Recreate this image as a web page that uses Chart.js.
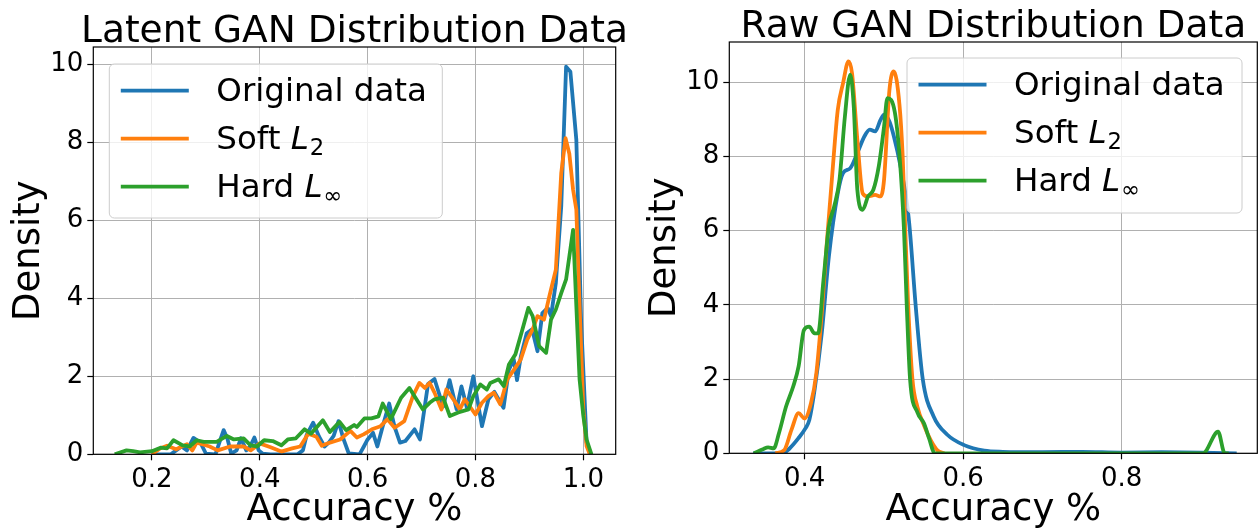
<!DOCTYPE html>
<html><head><meta charset="utf-8">
<script src="https://cdn.jsdelivr.net/npm/chart.js@4.4.0/dist/chart.umd.min.js"></script>
<style>
html,body{margin:0;padding:0;background:#fff;}
#wrap{position:relative;width:1258px;height:529px;overflow:hidden;background:#fff;}
#c1{position:absolute;left:0;top:0;}
#c2{position:absolute;left:640px;top:0;}
</style></head><body>
<div id="wrap"><canvas id="c1" width="640" height="529"></canvas><canvas id="c2" width="618" height="529"></canvas></div>
<script>
// ---------------- data ----------------
const seriesNames = ['Original data', 'Soft L\u2082', 'Hard L\u221E'];
const chartTitles = ['Latent GAN Distribution Data', 'Raw GAN Distribution Data'];
const xAxisTitle = 'Accuracy %';
const yAxisTitle = 'Density';

const latentXTicks = [0.2, 0.4, 0.6, 0.8, 1.0];
const latentXTickLabels = ['0.2', '0.4', '0.6', '0.8', '1.0'];
const latentYTicks = [0, 2, 4, 6, 8, 10];
const latentYTickLabels = ['0', '2', '4', '6', '8', '10'];
const rawXTicks = [0.4, 0.6, 0.8];
const rawXTickLabels = ['0.4', '0.6', '0.8'];
const rawYTicks = [0, 2, 4, 6, 8, 10];
const rawYTickLabels = ['0', '2', '4', '6', '8', '10'];

const latentOrigX = [0.200,0.235,0.255,0.265,0.277,0.290,0.300,0.318,0.325,0.333,0.340,0.347,0.357,0.365,0.375,0.382,0.390,0.398,0.405,0.420,0.470,0.480,0.487,0.499,0.510,0.520,0.528,0.537,0.546,0.555,0.565,0.585,0.593,0.600,0.610,0.618,0.628,0.640,0.650,0.660,0.670,0.687,0.697,0.712,0.724,0.740,0.752,0.765,0.774,0.784,0.796,0.812,0.824,0.835,0.852,0.862,0.871,0.877,0.884,0.895,0.905,0.915,0.924,0.934,0.940,0.949,0.959,0.968,0.976,0.987,0.996,1.006,1.014];
const latentOrigY = [0,0,0.20,0.10,0.42,0.30,0.02,0,0.30,0.62,0.40,0.02,0.10,0.41,0.10,0.20,0.43,0.10,0.02,0,0,0.10,0.50,0.81,0.45,0.20,0.30,0.47,0.85,0.40,0.02,0,0.20,0.38,0.55,0.20,0.72,1.30,0.70,0.30,0.34,0.64,0.38,1.80,1.93,1.22,1.90,1.15,1.74,1.20,2.00,0.72,1.41,1.60,1.19,2.17,2.43,1.90,2.50,3.10,3.20,2.64,3.62,3.75,3.54,4.39,6.35,9.93,9.80,8.06,3.37,0.30,0];

const latentSoftX = [0.200,0.215,0.228,0.245,0.265,0.275,0.283,0.295,0.307,0.322,0.345,0.370,0.383,0.400,0.420,0.440,0.460,0.475,0.490,0.505,0.515,0.530,0.549,0.568,0.580,0.5925,0.608,0.624,0.637,0.650,0.668,0.684,0.696,0.706,0.715,0.724,0.737,0.746,0.759,0.771,0.780,0.800,0.812,0.824,0.834,0.846,0.859,0.874,0.884,0.896,0.906,0.915,0.927,0.937,0.949,0.959,0.967,0.974,0.981,0.987,0.993,1.000,1.006,1.012];
const latentSoftY = [0,0.15,0.22,0.13,0.26,0.10,0.30,0.25,0.20,0.10,0.20,0.20,0.10,0.28,0.18,0.07,0.15,0.20,0.53,0.45,0.22,0.30,0.38,0.60,0.43,0.51,0.64,0.72,0.90,0.68,0.85,1.49,1.83,1.70,1.83,1.58,1.15,1.66,1.41,1.15,1.41,1.02,1.32,1.49,1.58,1.28,1.92,2.22,2.43,2.94,3.20,3.54,3.45,4.05,4.73,7.20,8.10,7.70,6.78,6.27,3.80,1.15,0.21,0];

const latentHardX = [0.131,0.153,0.165,0.178,0.200,0.216,0.228,0.240,0.257,0.270,0.283,0.296,0.320,0.339,0.352,0.370,0.383,0.395,0.408,0.424,0.440,0.452,0.467,0.483,0.495,0.517,0.530,0.548,0.560,0.575,0.580,0.594,0.607,0.620,0.628,0.643,0.662,0.6775,0.687,0.7025,0.715,0.724,0.740,0.7525,0.768,0.787,0.796,0.809,0.821,0.8275,0.843,0.8525,0.862,0.874,0.887,0.898,0.906,0.918,0.931,0.940,0.949,0.959,0.968,0.974,0.981,0.987,0.993,1.000,1.006,1.015];
const latentHardY = [0,0.10,0.08,0.05,0.08,0.17,0.15,0.36,0.23,0.20,0.36,0.32,0.32,0.47,0.38,0.41,0.23,0.20,0.36,0.34,0.23,0.38,0.41,0.64,0.53,0.87,0.57,0.83,0.62,0.75,0.70,0.92,0.92,0.97,1.30,0.90,1.45,1.70,1.49,1.15,1.32,1.41,1.45,0.98,1.07,1.15,1.49,1.79,1.66,1.83,1.92,1.75,2.30,2.56,3.20,3.75,3.54,2.77,2.60,3.45,3.71,4.13,4.48,5.07,5.75,3.80,1.92,0.98,0.38,0];

const rawOrigX = [0.335,0.372,0.381,0.392,0.401,0.406,0.4126,0.4216,0.4306,0.4418,0.4485,0.4575,0.4665,0.4755,0.4822,0.489,0.4957,0.5002,0.507,0.5127,0.521,0.5296,0.5328,0.540,0.549,0.5626,0.580,0.6013,0.6266,0.650,0.700,0.750,0.800,0.850,0.900,0.945];
const rawOrigY = [0,0,0.13,0.40,0.67,0.90,1.71,3.23,5.30,7.00,7.55,7.68,8.09,8.54,8.72,8.67,8.98,9.12,8.94,8.53,7.73,6.65,6.00,4.00,2.00,1.00,0.50,0.22,0.07,0.04,0.03,0.04,0.02,0.03,0.02,0];

const rawSoftX = [0.363,0.3744,0.3834,0.3924,0.400,0.408,0.4148,0.4216,0.4283,0.435,0.4418,0.4485,0.4553,0.4598,0.4665,0.4733,0.480,0.489,0.4957,0.5002,0.507,0.5125,0.5196,0.5237,0.527,0.5306,0.536,0.5423,0.5507,0.5592,0.5676,0.576];
const rawSoftY = [0,0.09,0.63,1.08,0.94,1.35,2.16,3.77,5.75,7.55,9.25,9.97,10.56,10.24,8.45,7.00,6.92,6.96,6.92,7.37,9.79,10.29,9.40,8.00,6.00,4.00,2.00,1.25,0.75,0.35,0.08,0];

const rawHardX = [0.336,0.3474,0.354,0.361,0.3676,0.3766,0.3856,0.3924,0.3991,0.4058,0.4126,0.417,0.4238,0.4306,0.4373,0.444,0.4508,0.4575,0.462,0.4665,0.4733,0.480,0.4867,0.4935,0.5002,0.5044,0.5137,0.5198,0.5254,0.5288,0.533,0.5423,0.5507,0.557,0.5642,0.9025,0.9215,0.930,0.935];
const rawHardY = [0,0.11,0.16,0.13,0.54,1.26,1.80,2.34,3.32,3.41,3.23,3.23,4.67,6.11,6.65,7.37,9.07,10.20,9.34,7.10,6.56,6.92,7.10,7.73,8.80,9.57,9.20,8.00,6.00,4.00,2.00,1.10,0.80,0.40,0,0,0.58,0,0];

// ---------------- styling ----------------
const FONT = "'DejaVu Sans', sans-serif";
const colors = ['#1f77b4', '#ff7f0e', '#2ca02c'];
const legendParts = [
  [{t: 'Original data'}],
  [{t: 'Soft '}, {t: 'L', it: true}, {t: '2', sub: true}],
  [{t: 'Hard '}, {t: 'L', it: true}, {t: '\u221E', sub: true}]
];

function drawLegend(ctx, L) {
  ctx.save();
  const r = 5;
  ctx.beginPath();
  ctx.moveTo(L.x + r, L.y);
  ctx.arcTo(L.x + L.w, L.y, L.x + L.w, L.y + L.h, r);
  ctx.arcTo(L.x + L.w, L.y + L.h, L.x, L.y + L.h, r);
  ctx.arcTo(L.x, L.y + L.h, L.x, L.y, r);
  ctx.arcTo(L.x, L.y, L.x + L.w, L.y, r);
  ctx.closePath();
  ctx.fillStyle = 'rgba(255,255,255,0.8)';
  ctx.fill();
  ctx.strokeStyle = '#cccccc';
  ctx.lineWidth = 1;
  ctx.stroke();
  const rows = [26.7, 74.7, 122.7];
  for (let i = 0; i < 3; i++) {
    const yc = L.y + rows[i];
    ctx.beginPath();
    ctx.strokeStyle = colors[i];
    ctx.lineWidth = 3.8;
    ctx.lineCap = 'butt';
    ctx.moveTo(L.x + 11.5, yc);
    ctx.lineTo(L.x + 79.5, yc);
    ctx.stroke();
    let x = L.x + 107;
    const base = yc + 10.5;
    ctx.fillStyle = '#000';
    ctx.textAlign = 'left';
    ctx.textBaseline = 'alphabetic';
    for (const p of legendParts[i]) {
      if (p.sub) {
        ctx.font = '22.7px ' + FONT;
        ctx.fillText(p.t, x + 1, base + 5.5);
        x += ctx.measureText(p.t).width + 1;
      } else {
        ctx.font = (p.it ? 'italic ' : '') + '32.5px ' + FONT;
        ctx.fillText(p.t, x, base);
        x += ctx.measureText(p.t).width;
      }
    }
  }
  ctx.restore();
}

const decor = {
  id: 'decor',
  afterDraw(chart) {
    const o = chart.options.plugins.decor;
    const ctx = chart.ctx;
    const ca = chart.chartArea;
    const cx = (ca.left + ca.right) / 2;
    const cy = (ca.top + ca.bottom) / 2;
    ctx.save();
    // frame (spines)
    ctx.strokeStyle = '#000';
    ctx.lineWidth = 1.2;
    ctx.strokeRect(ca.left, ca.top, ca.right - ca.left, ca.bottom - ca.top);
    // title
    ctx.fillStyle = '#000';
    ctx.textAlign = 'center';
    ctx.textBaseline = 'alphabetic';
    ctx.font = '37.5px ' + FONT;
    ctx.fillText(o.title, cx, o.titleBase);
    // x axis title
    ctx.font = '37px ' + FONT;
    ctx.fillText(xAxisTitle, cx, o.xLabelBase);
    // y axis title
    ctx.save();
    ctx.translate(o.yLabelBase, cy);
    ctx.rotate(-Math.PI / 2);
    ctx.fillText(yAxisTitle, 0, 0);
    ctx.restore();
    ctx.restore();
    drawLegend(ctx, o.legend);
  }
};

function makeChart(canvas, cfg) {
  const datasets = cfg.series.map((s, i) => ({
    label: seriesNames[i],
    data: s[0].map((x, j) => ({x: x, y: s[1][j]})),
    borderColor: colors[i],
    backgroundColor: colors[i],
    borderWidth: 3.8,
    pointRadius: 0,
    pointHoverRadius: 0,
    fill: false,
    tension: cfg.smooth ? 0.4 : 0,
    cubicInterpolationMode: cfg.smooth ? 'monotone' : 'default',
    borderJoinStyle: 'round',
    order: 2 - i
  }));
  return new Chart(canvas, {
    type: 'line',
    data: {datasets: datasets},
    options: {
      responsive: false,
      animation: false,
      events: [],
      layout: {padding: {top: cfg.top, right: cfg.padRight, left: 0, bottom: 0}},
      plugins: {
        legend: {display: false},
        tooltip: {enabled: false},
        title: {display: false},
        decor: cfg.decor
      },
      scales: {
        x: {
          type: 'linear', min: cfg.xMin, max: cfg.xMax,
          border: {display: false},
          grid: {color: '#b0b0b0', lineWidth: 1, tickLength: 6, tickColor: '#000', tickWidth: 1.2, drawTicks: true},
          ticks: {font: {family: FONT, size: 26}, color: '#000', padding: 4, maxRotation: 0, autoSkip: false,
                  callback: (v, i) => cfg.xLabels[i]},
          afterBuildTicks: s => { s.ticks = cfg.xTicks.map(v => ({value: v})); },
          afterFit: s => { s.height = cfg.xAxisH; }
        },
        y: {
          type: 'linear', min: 0, max: cfg.yMax,
          border: {display: false},
          grid: {color: '#b0b0b0', lineWidth: 1, tickLength: 6, tickColor: '#000', tickWidth: 1.2, drawTicks: true},
          ticks: {font: {family: FONT, size: 26}, color: '#000', padding: 4, autoSkip: false,
                  callback: (v, i) => cfg.yLabels[i]},
          afterBuildTicks: s => { s.ticks = cfg.yTicks.map(v => ({value: v})); },
          afterFit: s => { s.width = cfg.yAxisW; }
        }
      }
    },
    plugins: [decor]
  });
}

makeChart(document.getElementById('c1'), {
  series: [[latentOrigX, latentOrigY], [latentSoftX, latentSoftY], [latentHardX, latentHardY]],
  smooth: false,
  xMin: 0.0913, xMax: 1.060, yMax: 10.436,
  xTicks: latentXTicks, xLabels: latentXTickLabels,
  yTicks: latentYTicks, yLabels: latentYTickLabels,
  top: 47, padRight: 24.3, yAxisW: 93.3, xAxisH: 74.7,
  decor: {title: chartTitles[0], titleBase: 42, xLabelBase: 520, yLabelBase: 39,
          legend: {x: 109.3, y: 64, w: 333, h: 154}}
});

makeChart(document.getElementById('c2'), {
  series: [[rawOrigX, rawOrigY], [rawSoftX, rawSoftY], [rawHardX, rawHardY]],
  smooth: true,
  xMin: 0.305, xMax: 0.971, yMax: 11.08,
  xTicks: rawXTicks, xLabels: rawXTickLabels,
  yTicks: rawYTicks, yLabels: rawYTickLabels,
  top: 42, padRight: 0.7, yAxisW: 89.3, xAxisH: 75.7,
  decor: {title: chartTitles[1], titleBase: 37, xLabelBase: 520, yLabelBase: 35,
          legend: {x: 267, y: 58, w: 335, h: 155}}
});
</script>
</body></html>
